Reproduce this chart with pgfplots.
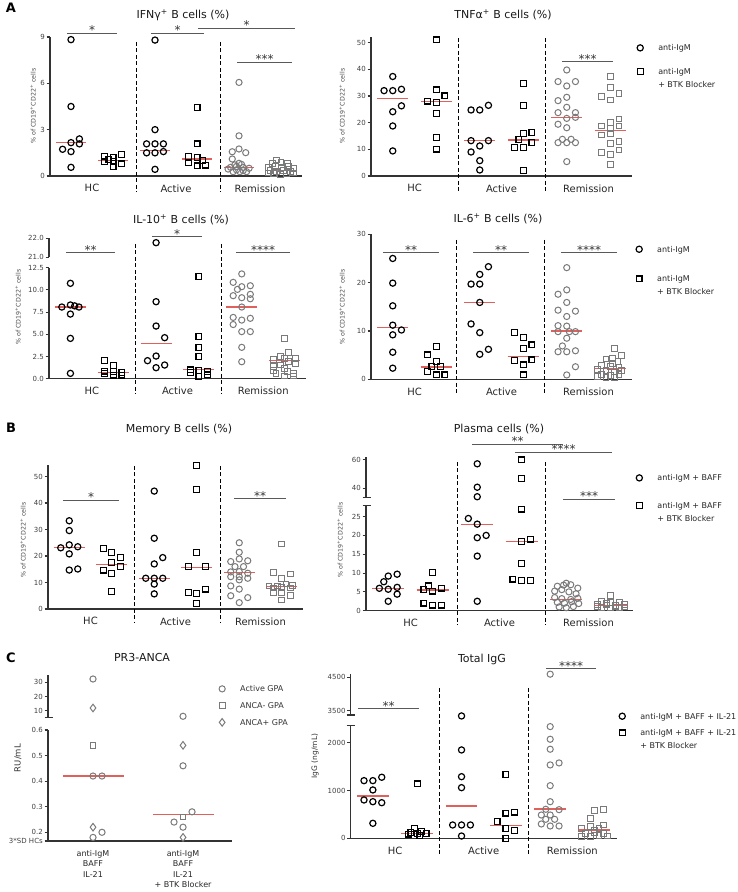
\documentclass[border=0pt]{standalone}
\usepackage{pgfplots}
\pgfplotsset{compat=1.18}
\usepackage{fontspec}
\setmainfont{DejaVu Sans}
\definecolor{gr}{HTML}{7A7A7A}
\definecolor{medc}{HTML}{E0605C}
\definecolor{ax}{HTML}{333333}
\pgfplotsset{
  pB/.style={scale only axis, clip=false, scaled ticks=false,
    axis y line*=left, axis x line*=bottom,
    axis line style={line width=1.1pt, draw=ax},
    tick align=outside, major tick length=3.5pt,
    ytick style={line width=1.1pt, draw=ax},
    xtick style={draw=none},
    /pgf/number format/assume math mode=true,
    yticklabel style={font=\fontsize{7}{8}\selectfont, text=black!75, inner sep=1.5pt},
    xticklabel style={font=\fontsize{10}{12}\selectfont, text=black!85, yshift=-1.5pt}},
  pG/.style={pB, xmin=0.5, xmax=3.5, xtick={1,2,3}, xticklabels={HC,Active,Remission}},
  pU/.style={pB, axis x line=none, xtick=\empty, xmin=0.5, xmax=3.5},
  limg/.style={legend image code/.code={\path[draw=none,fill=none] (0,0) -- (0.6cm,0); \draw[##1] plot coordinates {(0.3cm,2.9pt)};}},
  bc/.style={only marks, color=black, mark=o, mark size=3.1pt, mark options={line width=1.2pt}, limg},
  bs/.style={only marks, color=black, mark=square, mark size=2.9pt, mark options={line width=1.2pt}, limg},
  gc/.style={only marks, color=gr, mark=o, mark size=3.1pt, mark options={line width=1pt}, limg},
  gs/.style={only marks, color=gr, mark=square, mark size=2.9pt, mark options={line width=1pt}, limg},
  gd/.style={only marks, color=gr, mark=diamond, mark size=3.8pt, mark options={line width=1pt}, limg},
  medl/.style={color=medc, line width=1.1pt, mark=none, forget plot},
  lg/.style n args={3}{legend style={at={(#1,#2)}, anchor=north west, draw=none, fill=none,
    inner sep=0pt, font=\fontsize{8}{10}\selectfont, text=black!85,
    cells={anchor=base west, inner sep=1pt}, row sep=#3,
    /tikz/every odd column/.append style={column sep=7.5pt}}},
}
% six medians: HC circ, HC sq, Active circ, Active sq, Remission circ, Remission sq
\newcommand\meds[6]{%
  \addplot[medl] coordinates {(0.57,#1) (0.93,#1)};
  \addplot[medl] coordinates {(1.07,#2) (1.43,#2)};
  \addplot[medl] coordinates {(1.57,#3) (1.93,#3)};
  \addplot[medl] coordinates {(2.07,#4) (2.43,#4)};
  \addplot[medl] coordinates {(2.57,#5) (2.93,#5)};
  \addplot[medl] coordinates {(3.07,#6) (3.43,#6)};}
\newcommand\two[2]{\begin{tabular}[t]{@{}l@{}}#1\\[3pt]#2\end{tabular}}
\begin{document}
\begin{tikzpicture}
\useasboundingbox (0,0) rectangle (738pt,892pt);

% ---------- A: IFNg ----------
\begin{axis}[pG, at={(50pt,716pt)}, width=252pt, height=139pt, ymin=0, ymax=9, ytick={0,3,6,9}]
\addplot[bc] coordinates {(0.75,8.83) (0.75,4.5) (0.65,1.73) (0.75,2.16) (0.85,2.4) (0.85,2.08) (0.75,1.58) (0.75,0.56)
  (1.75,8.8) (1.75,3.0) (1.65,2.08) (1.75,2.08) (1.85,2.08) (1.65,1.5) (1.75,1.5) (1.85,1.58) (1.75,0.43)};
\addplot[bs] coordinates {(1.15,1.25) (1.25,1.2) (1.35,1.4) (1.15,0.93) (1.25,0.93) (1.35,0.78) (1.25,0.6) (1.2,1.05)
  (2.25,4.43) (2.25,2.08) (2.15,1.25) (2.25,1.2) (2.15,0.85) (2.25,0.65) (2.35,0.7) (2.32,1.0)};
\addplot[gc] coordinates {(2.75,6.06) (2.75,2.6) (2.67,1.57) (2.75,1.75) (2.83,1.51) (2.67,1.1) (2.75,0.82) (2.65,0.56)
  (2.72,0.62) (2.8,0.55) (2.87,0.5) (2.68,0.28) (2.76,0.28) (2.84,0.28) (2.72,0.4) (2.8,0.35) (2.7,0.72) (2.78,0.75) (2.62,0.45)};
\addplot[gs] coordinates {(3.2,1.04) (3.15,0.82) (3.25,0.85) (3.33,0.82) (3.1,0.55) (3.18,0.6) (3.26,0.55) (3.34,0.6) (3.4,0.5)
  (3.12,0.35) (3.2,0.3) (3.28,0.35) (3.36,0.3) (3.16,0.15) (3.24,0.12) (3.32,0.15) (3.4,0.2) (3.1,0.2)};
\meds{2.15}{1.0}{1.65}{1.1}{0.55}{0.35}
\end{axis}

% ---------- A: TNFa ----------
\begin{axis}[pG, at={(371pt,716pt)}, width=261pt, height=138.7pt, ymin=0, ymax=52, ytick={0,10,20,30,40,50},
  lg={0.998}{0.9625}{11.1pt}]
\addplot[bc] coordinates {(0.75,37.3) (0.65,32) (0.75,32) (0.85,32.5) (0.85,26.3) (0.75,24.1) (0.75,18.75) (0.75,9.4)
  (1.65,24.75) (1.75,24.75) (1.85,26.5) (1.65,13.25) (1.85,13.25) (1.75,11.25) (1.65,9) (1.75,5.75) (1.75,2.25)};
\addlegendentry{anti-IgM}
\addplot[bs] coordinates {(1.25,51) (1.25,32.3) (1.35,30) (1.15,28.1) (1.25,27.5) (1.25,23.5) (1.25,14.4) (1.25,10.1)
  (2.25,34.75) (2.25,26.5) (2.25,16) (2.35,16.25) (2.2,13.75) (2.35,12.5) (2.15,10.6) (2.25,10.6) (2.25,2)};
\addlegendentry{\two{anti-IgM}{+ BTK Blocker}}
\addplot[gc, forget plot] coordinates {(2.75,39.75) (2.65,35.4) (2.75,33.75) (2.85,35.4) (2.75,29.5) (2.65,28.25) (2.75,25.75)
  (2.65,23.75) (2.85,23.75) (2.75,21.6) (2.85,22) (2.65,19.4) (2.75,18.1) (2.7,13.75) (2.8,13.75) (2.65,12.5) (2.75,12.5) (2.85,12.5) (2.75,5.4)};
\addplot[gs, forget plot] coordinates {(3.25,37.25) (3.25,33.1) (3.15,29.75) (3.35,30.9) (3.25,28.5) (3.25,20.1) (3.35,21.4)
  (3.15,18.75) (3.25,17.75) (3.35,18.75) (3.15,15.4) (3.25,16) (3.35,12.9) (3.25,12.25) (3.15,8.75) (3.25,8.1) (3.35,9.75) (3.25,4.4)};
\meds{29}{28}{13.25}{13.5}{22}{17}
\end{axis}

% ---------- A: IL-10 (broken axis) ----------
\begin{axis}[pU, at={(49pt,634.7pt)}, width=257pt, height=19pt, ymin=21, ymax=22, ytick={21,22}, yticklabels={21.0,22.0}]
\addplot[bc] coordinates {(1.75,21.77)};
\end{axis}
\begin{axis}[pG, at={(49pt,513.3pt)}, width=257pt, height=111pt, ymin=0, ymax=12.5,
  ytick={0,2.5,5,7.5,10,12.5}, yticklabels={0.0,2.5,5.0,7.5,10.0,12.5}]
\addplot[bc] coordinates {(0.75,10.74) (0.65,8.07) (0.75,8.3) (0.85,8.07) (0.8,8.2) (0.75,7.28) (0.75,4.54) (0.75,0.6)
  (1.75,8.67) (1.75,5.93) (1.85,4.62) (1.65,2.03) (1.75,2.55) (1.75,1.24) (1.85,1.54)};
\addplot[bs] coordinates {(1.15,2.03) (1.25,1.46) (1.15,0.85) (1.25,0.8) (1.35,0.7) (1.15,0.6) (1.25,0.4) (1.35,0.4)
  (2.25,11.5) (2.25,4.73) (2.25,3.53) (2.25,2.48) (2.15,0.98) (2.25,0.9) (2.35,0.8) (2.15,0.7) (2.25,0.23) (2.35,0.42)};
\addplot[gc] coordinates {(2.75,11.8) (2.65,10.85) (2.75,10.36) (2.85,10.47) (2.7,10.06) (2.65,9.35) (2.75,9.12) (2.85,9.5)
  (2.85,9.0) (2.75,8.07) (2.65,6.9) (2.75,6.6) (2.85,6.8) (2.65,6.1) (2.75,5.3) (2.85,5.3) (2.75,3.53) (2.75,1.91)};
\addplot[gs] coordinates {(3.25,4.54) (3.2,2.48) (3.3,2.93) (3.38,2.29) (3.12,2.18) (3.25,2.29) (3.2,1.54) (3.3,1.91) (3.38,1.7)
  (3.12,1.35) (3.25,1.16) (3.35,0.6) (3.15,0.55) (3.25,0.3) (3.35,0.3) (3.12,0.9) (3.28,0.8)};
\meds{8.07}{0.7}{3.94}{1.05}{8.07}{2.03}
\end{axis}

% ---------- A: IL-6 ----------
\begin{axis}[pG, at={(371pt,512.7pt)}, width=261pt, height=145pt, ymin=0, ymax=30, ytick={0,10,20,30},
  lg={0.994}{0.934}{17.1pt}]
\addplot[bc] coordinates {(0.75,25.0) (0.75,19.9) (0.75,15.2) (0.75,11.2) (0.85,10.2) (0.75,9.2) (0.75,5.6) (0.75,2.3)
  (1.85,23.3) (1.75,21.7) (1.65,19.7) (1.75,19.7) (1.75,15.9) (1.65,11.45) (1.75,9.66) (1.85,6.2) (1.75,5.17)};
\addlegendentry{anti-IgM}
\addplot[bs] coordinates {(1.25,6.76) (1.15,5.03) (1.25,3.66) (1.2,2.6) (1.3,2.6) (1.15,1.6) (1.25,0.9) (1.35,0.9)
  (2.15,9.7) (2.25,8.6) (2.35,7.1) (2.25,6.4) (2.15,3.86) (2.35,4.0) (2.25,2.97) (2.25,0.9)};
\addlegendentry{\two{anti-IgM}{+ BTK Blocker}}
\addplot[gc, forget plot] coordinates {(2.75,23.1) (2.75,18.5) (2.65,17.6) (2.75,15.9) (2.65,14.3) (2.85,14.1) (2.75,13.0)
  (2.65,11.1) (2.75,11.0) (2.85,9.86) (2.78,9.86) (2.65,9.86) (2.75,8.5) (2.7,6.9) (2.65,5.7) (2.75,5.7) (2.85,5.9) (2.85,2.6) (2.75,0.9)};
\addplot[gs, forget plot] coordinates {(3.3,6.3) (3.38,5.0) (3.2,4.2) (3.28,4.3) (3.34,3.66) (3.15,2.83) (3.25,2.6) (3.35,2.4)
  (3.1,2.0) (3.2,1.8) (3.3,1.5) (3.38,1.9) (3.15,1.0) (3.25,0.8) (3.35,1.0) (3.2,0.4) (3.3,0.3) (3.1,0.6) (3.28,3.2)};
\meds{10.8}{2.55}{15.9}{4.7}{10.0}{2.3}
\end{axis}

% ---------- B: Memory ----------
\begin{axis}[pG, at={(48pt,283pt)}, width=255pt, height=144.4pt, ymin=0, ymax=54.5, ytick={0,10,20,30,40,50}]
\addplot[bc] coordinates {(0.75,33.3) (0.75,29.6) (0.75,24.2) (0.65,23.1) (0.85,23.5) (0.75,20.8) (0.75,14.7) (0.85,15.1)
  (1.75,44.5) (1.75,26.7) (1.85,19.4) (1.75,17.0) (1.65,11.6) (1.75,11.6) (1.85,11.6) (1.75,9.4) (1.75,5.7)};
\addplot[bs] coordinates {(1.15,22.9) (1.25,21.4) (1.35,19.5) (1.25,17.6) (1.35,16.0) (1.15,14.7) (1.25,13.5) (1.25,6.5)
  (2.25,54.1) (2.25,45.2) (2.25,21.3) (2.15,16.0) (2.35,16.0) (2.15,6.2) (2.25,5.9) (2.35,7.5) (2.25,2.1)};
\addplot[gc] coordinates {(2.75,25.0) (2.75,21.4) (2.75,18.9) (2.65,17.9) (2.85,18.2) (2.7,16.0) (2.8,16.0) (2.65,14.0)
  (2.75,14.1) (2.85,13.5) (2.65,12.2) (2.75,12.2) (2.85,11.6) (2.75,11.0) (2.65,8.7) (2.75,7.5) (2.65,5.0) (2.85,4.3) (2.75,2.4)};
\addplot[gs] coordinates {(3.25,24.5) (3.15,13.7) (3.35,13.2) (3.25,11.6) (3.1,8.7) (3.2,8.7) (3.3,9.4) (3.38,9.0) (3.15,7.9)
  (3.25,8.0) (3.35,7.9) (3.15,6.2) (3.25,6.2) (3.35,5.0) (3.25,3.4)};
\meds{23.1}{16.9}{11.6}{15.7}{13.7}{8.4}
\end{axis}

% ---------- B: Plasma (broken axis) ----------
\begin{axis}[pU, at={(366pt,394.7pt)}, width=267pt, height=40.3pt, ymin=33.6, ymax=62, ytick={40,60}]
\addplot[bc] coordinates {(1.75,57.2) (1.75,40.7) (1.75,34)};
\addplot[bs] coordinates {(2.25,60) (2.25,47)};
\end{axis}
\begin{axis}[pG, at={(366pt,281.3pt)}, width=267pt, height=105pt, ymin=0, ymax=27.9, ytick={0,5,10,15,20,25},
  lg={0.991}{1.316}{15.1pt}]
\addplot[bc] coordinates {(0.75,9.2) (0.85,9.7) (0.7,7.7) (0.65,5.95) (0.75,5.7) (0.85,6.2) (0.85,4.4) (0.75,2.5)
  (1.65,24.5) (1.75,23.0) (1.75,19.4) (1.85,20.0) (1.75,14.5) (1.75,2.5)};
\addlegendentry{anti-IgM + BAFF}
\addplot[bs] coordinates {(1.25,10.1) (1.2,6.6) (1.15,5.7) (1.25,5.2) (1.35,6.0) (1.15,2.0) (1.25,1.5) (1.35,1.5)
  (2.25,27.0) (2.25,18.4) (2.35,19.0) (2.25,12.6) (2.15,8.4) (2.25,8.0) (2.35,8.0)};
\addlegendentry{\two{anti-IgM + BAFF}{+ BTK Blocker}}
\addplot[gc, forget plot] coordinates {(2.75,7.3) (2.65,6.5) (2.72,6.8) (2.8,6.9) (2.88,6.0) (2.62,5.2) (2.7,5.6) (2.78,5.0)
  (2.86,4.5) (2.62,3.5) (2.7,3.2) (2.8,3.0) (2.88,3.3) (2.65,2.2) (2.73,2.0) (2.81,2.4) (2.89,1.9) (2.67,1.0) (2.75,0.8) (2.83,1.1)};
\addplot[gs, forget plot] coordinates {(3.25,4.1) (3.15,2.4) (3.25,2.2) (3.35,2.3) (3.1,1.6) (3.2,1.5) (3.3,1.4) (3.4,1.6)
  (3.15,0.8) (3.25,0.7) (3.35,0.8) (3.2,1.9) (3.3,1.0) (3.1,1.1) (3.4,1.0)};
\meds{6.0}{5.5}{23.0}{18.4}{2.9}{1.4}
\end{axis}

% ---------- C: PR3-ANCA (broken axis) ----------
\begin{axis}[pU, at={(48pt,174.7pt)}, width=184pt, height=42.3pt, xmax=2.544, ymin=5.5, ymax=35.1, ytick={10,20,30}]
\addplot[gc] coordinates {(1,32.3) (2,6.2)};
\addplot[gd] coordinates {(1,12)};
\end{axis}
\begin{axis}[pB, at={(48pt,51pt)}, width=184pt, height=111pt, xmin=0.5, xmax=2.544, ymin=0.166, ymax=0.6,
  xtick={1,2}, xticklabels={{anti-IgM\\BAFF\\IL-21},{anti-IgM\\BAFF\\IL-21\\+ BTK Blocker}},
  xticklabel style={align=center, font=\fontsize{8}{10.3}\selectfont, yshift=-1pt},
  ytick={0.166,0.2,0.3,0.4,0.5,0.6}, yticklabels={3*SD HCs,0.2,0.3,0.4,0.5,0.6},
  lg={0.899}{1.419}{5.3pt}, legend style={text=black!80}]
\addplot[gc] coordinates {(1,0.42) (1.1,0.42) (1.1,0.2) (1,0.18) (2,0.46) (2.1,0.28) (1.9,0.24) (2,0.22)};
\addlegendentry{Active GPA}
\addplot[gs] coordinates {(1,0.54) (2,0.26)};
\addlegendentry{ANCA- GPA}
\addplot[gd] coordinates {(1,0.22) (2,0.54) (2,0.18)};
\addlegendentry{ANCA+ GPA}
\addplot[medl] coordinates {(0.667,0.42) (1.344,0.42)};
\addplot[medl] coordinates {(1.667,0.27) (2.344,0.27)};
\end{axis}

% ---------- C: Total IgG (broken axis) ----------
\begin{axis}[pU, at={(350.7pt,177pt)}, width=266pt, height=41pt, ymin=3371, ymax=4600, ytick={3500,4500}, yticklabels={3500,4500}]
\addplot[bc] coordinates {(1.75,3342)};
\addplot[gc] coordinates {(2.75,4595)};
\end{axis}
\begin{axis}[pG, at={(350.7pt,53.7pt)}, width=266pt, height=112.6pt, ymin=0, ymax=2359, ytick={0,1000,2000},
  yticklabels={0,1000,2000}, lg={0.988}{1.132}{4.1pt}]
\addplot[bc] coordinates {(0.65,1208) (0.75,1208) (0.85,1279) (0.75,1013) (0.65,803) (0.75,767) (0.85,746) (0.75,314)
  (1.75,1851) (1.75,1291) (1.75,1061) (1.65,279) (1.75,279) (1.85,279) (1.75,48)};
\addlegendentry{anti-IgM + BAFF + IL-21}
\addplot[bs] coordinates {(1.25,1138) (1.22,210) (1.15,90) (1.25,105) (1.35,100) (1.18,120) (1.3,140) (1.28,60)
  (2.25,1342) (2.25,530) (2.35,548) (2.15,348) (2.25,210) (2.35,160) (2.25,0)};
\addlegendentry{\two{anti-IgM + BAFF + IL-21}{+ BTK Blocker}}
\addplot[gc, forget plot] coordinates {(2.75,2340) (2.75,2075) (2.75,1866) (2.75,1537) (2.85,1579) (2.75,1103) (2.75,767)
  (2.7,608) (2.85,600) (2.65,488) (2.75,488) (2.7,398) (2.8,398) (2.65,300) (2.75,258) (2.85,258)};
\addplot[gs, forget plot] coordinates {(3.35,608) (3.25,579) (3.2,419) (3.35,280) (3.1,200) (3.2,250) (3.3,200) (3.15,100)
  (3.25,120) (3.35,100) (3.1,40) (3.2,30) (3.3,60) (3.4,50) (3.25,174)};
\meds{887}{105}{677}{265}{614}{174}
\end{axis}

% ---------- annotations, in pixel coordinates ----------
\begin{scope}[x=1pt, y=-1pt, yshift=892pt]
\tikzset{zdv/.style={dash pattern=on 4pt off 2.5pt, line width=0.9pt, black},
  zsg/.style={line width=0.9pt, black!65},
  zst/.style={anchor=base, inner sep=0pt, font=\fontsize{12}{12}\selectfont, text=black!80},
  ztt/.style={font=\fontsize{11}{13}\selectfont, text=black!90},
  zyl/.style={rotate=90, font=\fontsize{6.3}{7}\selectfont, text=black!70},
  zbrk/.style={line width=1.1pt, draw=ax},
  zpl/.style={font=\bfseries\fontsize{13}{13}\selectfont}}
% panel letters
\node[zpl] at (11,8) {A};
\node[zpl] at (11,428) {B};
\node[zpl] at (11,658) {C};
% titles
\node[ztt] at (183,15) {IFNγ\textsuperscript{+} B cells (\%)};
\node[ztt] at (503,15) {TNFα\textsuperscript{+} B cells (\%)};
\node[ztt] at (181,220) {IL-10\textsuperscript{+} B cells (\%)};
\node[ztt] at (498,219) {IL-6\textsuperscript{+} B cells (\%)};
\node[ztt] at (179,429) {Memory B cells (\%)};
\node[ztt] at (499,429) {Plasma cells (\%)};
\node[ztt] at (142,657) {PR3-ANCA};
\node[ztt] at (482,659) {Total IgG};
% y labels
\foreach \x/\y in {33/106, 342/106, 18/307, 342/307, 23/540, 340/540}
  \node[zyl] at (\x,\y) {\% of CD19\textsuperscript{+}CD22\textsuperscript{+} cells};
\node[rotate=90, font=\fontsize{8.5}{9}\selectfont, text=black!80] at (18,758) {RU/mL};
\node[rotate=90, font=\fontsize{7.5}{8}\selectfont, text=black!80] at (315,756) {IgG (ng/mL)};
% group dividers
\foreach \x in {136,220} \draw[zdv] (\x,42) -- (\x,192);
\foreach \x in {458,545} \draw[zdv] (\x,38) -- (\x,192);
\foreach \x in {135,221} \draw[zdv] (\x,244) -- (\x,394);
\foreach \x in {456,544} \draw[zdv] (\x,240) -- (\x,394);
\foreach \x in {134,220} \draw[zdv] (\x,466) -- (\x,623);
\foreach \x in {457,545} \draw[zdv] (\x,462) -- (\x,625);
\foreach \x in {439,528} \draw[zdv] (\x,688) -- (\x,855);
% axis break caps
\draw[zbrk] (362.5,497.3) -- (370.5,497.3);
\draw[zbrk] (362.5,505.7) -- (370.5,505.7);
\draw[zbrk] (44.5,717.3) -- (52.5,717.3);
\draw[zbrk] (346.7,715) -- (354.7,715);
\draw[zbrk] (346.7,725.7) -- (354.7,725.7);
% significance bars
\foreach \a/\b/\y/\s in {67/117/33/*, 151/204/33/*, 198/295/28/*, 237/292/62/***, 562/613/61.7/***,
  66/115/252.7/**, 152/202/236.7/*, 236/290/252.7/****,
  383/439/252.7/**, 473/529/252.7/**, 561/617/252.7/****,
  63/119/500/*, 234/286/498.3/**,
  472/563/444/**, 515/612/452/****, 563/615/499/***,
  358/419/708.3/**, 546/596/668.3/****}
  {\draw[zsg] (\a,\y) -- (\b,\y);
   \node[zst] at ({(\a+\b)/2},\y+2) {\s};}
\end{scope}
\end{tikzpicture}
\end{document}
